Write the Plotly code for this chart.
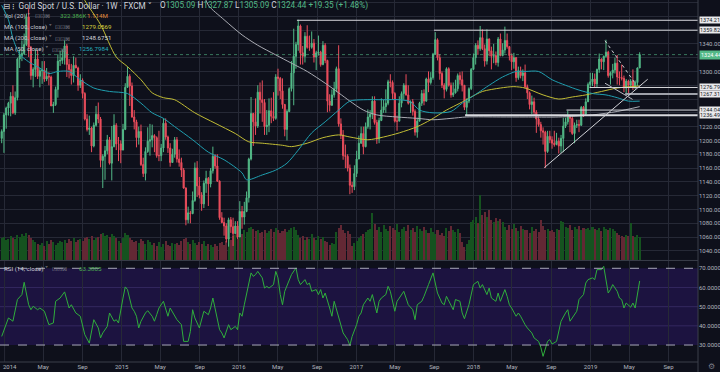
import plotly.graph_objects as go
import pandas as pd

# ---------------- DATA ----------------
week_start = "2013-12-23"   # first weekly candle (Monday)

opens = [1203,1213,1237,1247,1254,1264,1240,1262,1318,1323,
1326,1339,1379,1335,1294,1303,1318,1293,1301,1302,
1289,1293,1292,1250,1252,1274,1315,1316,1320,1337,
1310,1303,1294,1309,1305,1280,1287,1268,1231,1216,
1218,1192,1222,1238,1231,1171,1177,1185,1201,1167,
1191,1222,1195,1195,1186,1216,1277,1293,1279,1234,
1227,1204,1213,1165,1152,1184,1199,1201,1207,1204,
1178,1178,1189,1225,1205,1189,1168,1180,1201,1173,
1168,1157,1131,1085,1095,1094,1113,1160,1134,1121,
1108,1138,1145,1137,1156,1177,1163,1141,1088,1081,
1076,1057,1085,1075,1065,1076,1060,1097,1089,1097,
1117,1173,1239,1227,1221,1270,1259,1255,1220,1222,
1243,1235,1232,1292,1290,1272,1252,1216,1242,1275,
1298,1322,1339,1366,1327,1322,1351,1335,1335,1341,
1321,1327,1328,1310,1338,1316,1257,1251,1266,1275,
1304,1224,1208,1178,1177,1160,1135,1133,1152,1173,
1196,1210,1191,1220,1234,1238,1257,1226,1202,1229,
1244,1249,1254,1285,1284,1268,1228,1228,1254,1268,
1280,1266,1254,1256,1242,1212,1228,1254,1268,1257,
1289,1284,1291,1325,1346,1320,1297,1280,1274,1304,
1280,1266,1269,1275,1294,1288,1280,1248,1257,1275,
1303,1320,1338,1333,1349,1333,1315,1347,1330,1322,
1323,1313,1347,1323,1331,1345,1336,1323,1314,1320,
1291,1301,1294,1298,1278,1269,1252,1256,1241,1231,
1223,1214,1212,1184,1206,1201,1196,1194,1199,1192,
1203,1221,1227,1235,1232,1210,1222,1223,1222,1248,
1238,1256,1281,1285,1289,1282,1303,1318,1314,1322,
1328,1294,1298,1302,1312,1292,1291,1290,1276,1286,
1280,1286,1277,1284,1305.09]

highs = [1216,1240,1249,1256,1270,1280,1271,1320,1332,1345,
1355,1384,1392,1337,1306,1332,1331,1305,1315,1315,
1305,1299,1294,1256,1278,1325,1330,1332,1345,1340,
1318,1311,1322,1320,1307,1296,1290,1270,1238,1236,
1220,1226,1250,1255,1234,1180,1192,1208,1205,1221,
1238,1225,1205,1200,1224,1283,1307,1296,1284,1244,
1230,1220,1223,1175,1190,1219,1224,1223,1209,1206,
1214,1195,1232,1232,1207,1196,1188,1205,1205,1187,
1175,1160,1132,1104,1098,1126,1168,1170,1147,1125,
1142,1156,1147,1160,1191,1180,1180,1142,1096,1088,
1080,1088,1089,1088,1083,1083,1112,1105,1111,1126,
1175,1263,1240,1261,1280,1284,1287,1260,1244,1261,
1262,1270,1296,1304,1292,1290,1253,1245,1277,1315,
1362,1343,1375,1368,1337,1357,1367,1352,1358,1347,
1330,1352,1330,1344,1341,1317,1267,1274,1285,1307,
1338,1232,1215,1194,1180,1165,1140,1164,1185,1207,
1220,1220,1226,1245,1244,1264,1264,1230,1233,1261,
1259,1274,1288,1296,1287,1270,1236,1264,1271,1283,
1296,1280,1258,1260,1245,1233,1256,1273,1274,1291,
1300,1299,1327,1357,1348,1325,1300,1283,1306,1306,
1284,1284,1288,1297,1299,1300,1280,1261,1277,1305,
1326,1341,1345,1366,1361,1339,1361,1348,1336,1340,
1329,1350,1355,1341,1365,1355,1337,1326,1327,1321,
1307,1307,1303,1310,1281,1271,1265,1262,1244,1235,
1227,1219,1214,1214,1214,1206,1214,1211,1204,1208,
1233,1233,1243,1237,1237,1226,1230,1230,1250,1250,
1261,1284,1298,1298,1297,1304,1326,1319,1323,1346,
1330,1300,1311,1320,1324,1300,1310,1294,1289,1288,
1289,1303,1287,1306,1327.87]

lows = [1196,1182,1217,1236,1235,1238,1237,1258,1305,1315,
1324,1337,1321,1288,1277,1292,1289,1277,1282,1285,
1286,1280,1250,1240,1250,1262,1308,1311,1310,1292,
1290,1281,1284,1305,1272,1276,1261,1229,1213,1208,
1183,1190,1220,1225,1161,1131,1143,1180,1165,1142,
1190,1186,1170,1167,1186,1215,1276,1250,1233,1216,
1190,1194,1163,1147,1142,1182,1178,1190,1183,1175,
1170,1170,1183,1201,1182,1162,1168,1175,1168,1162,
1147,1130,1077,1080,1080,1093,1111,1118,1116,1098,
1102,1124,1105,1132,1152,1159,1140,1085,1080,1062,
1052,1046,1066,1047,1064,1057,1061,1072,1078,1096,
1110,1171,1192,1208,1218,1239,1227,1208,1208,1212,
1225,1228,1230,1265,1260,1246,1206,1200,1241,1271,
1251,1304,1330,1310,1310,1313,1333,1330,1333,1313,
1302,1323,1307,1309,1312,1241,1242,1250,1262,1270,
1220,1202,1172,1160,1155,1122,1124,1128,1147,1173,
1195,1180,1190,1217,1216,1231,1223,1195,1196,1228,
1240,1240,1251,1277,1260,1226,1214,1228,1248,1259,
1265,1252,1240,1236,1207,1204,1229,1250,1251,1256,
1270,1281,1288,1324,1316,1288,1276,1261,1271,1278,
1262,1263,1268,1271,1281,1271,1244,1236,1254,1273,
1302,1310,1324,1330,1331,1307,1310,1322,1303,1312,
1309,1307,1322,1322,1326,1333,1316,1302,1304,1285,
1288,1290,1286,1275,1260,1245,1238,1237,1211,1220,
1204,1194,1160,1182,1196,1188,1191,1193,1181,1182,
1183,1218,1223,1212,1208,1196,1218,1212,1221,1234,
1236,1256,1276,1279,1276,1277,1298,1303,1302,1320,
1291,1281,1290,1297,1281,1280,1287,1270,1266,1267,
1276,1273,1274,1279,1305.09]

closes = [1213,1237,1247,1254,1264,1240,1262,1318,1323,1326,
1339,1379,1335,1294,1303,1318,1293,1301,1302,1289,
1293,1292,1250,1252,1274,1315,1316,1320,1337,1310,
1303,1294,1309,1305,1280,1287,1268,1231,1216,1218,
1192,1222,1238,1231,1171,1177,1185,1201,1167,1191,
1222,1195,1195,1186,1216,1277,1293,1279,1234,1227,
1204,1213,1165,1152,1184,1199,1201,1207,1204,1178,
1178,1189,1225,1205,1189,1168,1180,1201,1173,1168,
1157,1131,1085,1095,1094,1113,1160,1134,1121,1108,
1138,1145,1137,1156,1177,1163,1141,1088,1081,1076,
1057,1085,1075,1065,1076,1060,1097,1089,1097,1117,
1173,1239,1227,1221,1270,1259,1255,1220,1222,1243,
1235,1232,1292,1290,1272,1252,1216,1242,1275,1298,
1322,1339,1366,1327,1322,1351,1335,1335,1341,1321,
1327,1328,1310,1338,1316,1257,1251,1266,1275,1304,
1224,1208,1178,1177,1160,1135,1133,1152,1173,1196,
1210,1191,1220,1234,1238,1257,1226,1202,1229,1244,
1249,1254,1285,1284,1268,1228,1228,1254,1268,1280,
1266,1254,1256,1242,1212,1228,1254,1268,1257,1289,
1284,1291,1325,1346,1320,1297,1280,1274,1304,1280,
1266,1269,1275,1294,1288,1280,1248,1257,1275,1303,
1320,1338,1333,1349,1333,1315,1347,1330,1322,1323,
1313,1347,1323,1331,1345,1336,1323,1314,1320,1291,
1301,1294,1298,1278,1269,1252,1256,1241,1231,1223,
1214,1212,1184,1206,1201,1196,1194,1199,1192,1203,
1221,1227,1235,1232,1210,1222,1223,1222,1248,1238,
1256,1281,1285,1289,1282,1303,1318,1314,1322,1328,
1294,1298,1302,1312,1292,1291,1290,1276,1286,1280,
1286,1277,1284,1305,1324.44]

volumes_k = [1100,1150,1000,1050,1200,1100,1050,1250,1150,
1300,1200,1350,1250,1100,1000,
900,800,750,850,700,950,800,1000,900,750,850,950,
900,1000,850,1050,950,1100,900,1000,1050,950,1100,1150,
1050,1200,1000,1100,1150,1300,
1350,1200,1250,1150,
1300,1200,1100,950,850,1100,
1350,1250,
1100,1000,900,950,850,1050,950,800,1000,900,
750,850,700,900,650,800,950,750,700,850,800,
850,750,950,1050,1100,900,800,1000,850,750,900,800,950,700,800,
750,650,800,700,850,900,750,950,
1100,1000,1200,1250,1050,1150,1300,
1500,1400,1600,1650,1550,1450,1500,1350,
1400,1500,1350,1450,1550,1400,1600,1500,1350,1450,1550,1400,1500,1600,
1650,1500,
1250,1100,1200,1000,1150,1050,1300,1100,1000,1200,1050,1150,950,
900,750,850,800,
1400,1600,1750,1500,1350,1450,1300,
700,850,950,1100,1200,1300,1400,1500,1550,
2350,1800,
1500,1650,1400,1750,1550,1450,1700,1600,1500,1800,1400,1550,1650,1450,1750,1500,1600,1400,1700,1550,1450,1650,1500,1350,1600,
1400,1300,1500,1250,1350,1200,
1600,1450,1700,1500,1400,1550,1350,
900,650,800,1000,
1900,2000,2150,1850,
3250,
2250,2400,2150,2500,
2000,1900,2100,1950,2050,1900,
1650,1500,1750,1550,1800,1600,1450,1700,1550,1500,
1500,1350,1650,1450,1550,1400,
2000,1700,1500,
1550,1450,1500,1400,1550,1500,
1950,1900,1650,
1600,1750,1500,1650,1550,1700,1500,1600,1550,
1600,1500,1650,1550,1500,1600,1450,1650,1550,1500,1600,1550,1450,
1350,1250,1200,
1150,1250,1200,
1850,
1200,1150,1250,1150]

# moving averages (week index -> value)
ma50_weeks = [0,3,5,8,12,17,21,25,30,35,41,48,56,62,67,72,77,85,92,99,107,109,116,122,127,132,138,144,150,155,161,170,177,182,186,192,200,205,212,217,223,229,233,239,245,251,257,263,269,274,279,284]
ma50_vals = [1396,1375,1348,1325,1314,1305,1297,1300,1300,1288,1276,1271,1268,1254,1240,1232,1220,1201,1183,1172,1153,1143,1150,1157,1167,1186,1211,1227,1244,1257,1259,1259,1259,1256,1244,1240,1242,1254,1269,1280,1292,1300,1300,1300,1288,1280,1273,1268,1266,1262,1257,1257]

ma100_weeks = [35,37,44,51,56,62,67,72,77,86,95,104,110,116,125,129,136,143,150,155,163,170,177,185,191,198,204,209,214,222,228,233,241,248,254,260,267,274,284]
ma100_vals = [1418,1403,1368,1321,1307,1288,1269,1262,1259,1240,1225,1210,1198,1196,1193,1191,1196,1204,1208,1205,1201,1205,1211,1220,1230,1244,1254,1263,1271,1276,1278,1276,1266,1260,1263,1266,1271,1276,1279]

ma200_weeks = [90,92,99,107,114,122,129,136,144,150,155,161,167,176,185,192,200,207,222,233,248,263,274,284]
ma200_vals = [1412,1396,1375,1353,1338,1324,1312,1300,1283,1269,1257,1244,1237,1234,1232,1230,1232,1234,1234,1234,1234,1237,1242,1249]

rsi_weeks = [0,2,3,5,7,9,10,12,13,14,16,17,19,21,23,24,26,28,29,30,31,33,35,36,37,39,40,41,43,44,45,47,48,50,51,52,
54,55,56,58,59,60,61,62,64,65,67,68,69,70,72,73,74,75,77,78,80,81,83,84,85,86,88,89,90,92,93,94,95,97,98,99,
101,102,104,105,106,107,108,110,111,112,113,114,116,117,118,119,121,122,123,124,125,126,128,129,131,132,133,
135,136,137,138,140,141,142,143,144,146,147,148,150,151,152,154,155,156,158,159,160,161,163,164,165,167,168,
169,171,172,173,175,176,177,179,180,181,183,184,185,187,188,189,190,192,193,194,196,197,198,200,201,202,204,
205,206,208,209,210,212,213,214,216,217,218,220,221,222,224,225,226,227,229,230,231,233,234,236,237,239,240,
241,243,244,245,247,248,249,251,252,253,255,256,257,259,260,261,263,264,265,267,268,269,270,271,272,274,275,
276,277,278,280,281,282,284]
rsi_vals = [34.5,41.5,44.1,42.4,53.7,56.3,62.7,51.0,48.4,50.2,48.4,49.3,47.6,40.6,41.5,52.8,54.5,57.7,52.8,49.3,51.0,46.7,45.0,40.6,35.4,31.0,38.0,43.2,38.9,33.7,36.3,39.7,46.7,42.4,43.2,41.5,
54.5,60.3,58.9,49.3,47.6,45.0,38.9,42.4,46.7,47.9,45.0,42.4,45.8,49.3,52.8,48.4,45.0,49.3,45.0,43.2,40.6,31.9,31.9,37.1,48.4,44.1,38.9,43.2,47.6,45.8,49.3,54.5,49.3,38.0,36.3,33.7,
40.6,38.0,39.7,38.0,46.7,45.0,51.0,62.3,67.6,65.8,66.7,68.4,65.0,59.7,60.6,59.7,61.5,68.4,65.0,56.3,51.0,58.0,63.2,66.7,70.2,64.1,61.5,
64.1,61.5,62.3,58.0,58.9,56.3,58.9,54.5,57.1,49.3,45.0,52.8,44.1,39.7,36.3,32.8,29.8,34.5,40.6,45.0,46.7,51.0,54.5,52.8,56.3,46.7,52.8,
54.5,56.3,60.6,58.0,47.6,52.8,54.5,58.0,54.5,51.0,48.4,43.2,51.0,52.8,55.4,58.0,61.5,67.6,61.5,57.1,51.9,51.0,55.4,50.2,48.4,53.7,52.8,
46.7,43.7,51.0,57.1,61.5,63.2,59.7,61.5,56.3,59.7,54.5,52.8,57.1,52.8,58.9,55.4,51.0,49.3,45.0,46.7,45.0,40.6,38.9,36.3,33.7,31.9,28.8,
24.1,31.9,32.8,30.5,31.9,37.1,42.4,46.7,48.4,42.4,45.8,47.6,53.7,56.3,62.3,64.1,65.0,64.1,69.3,69.3,71.0,65.0,57.1,58.9,61.5,58.0,54.5,
53.7,49.3,51.9,49.7,51.9,49.3,63.4]

level_prices = [1374.21, 1359.82, 1276.79, 1267.31, 1244.04, 1236.49]
level_starts = ["2016-06-30", "2017-08-31", "2018-12-29", "2019-04-19", "2018-10-18", "2017-12-06"]

price_ticks = list(range(1040, 1401, 20))
hidden_price_ticks = [1240, 1260, 1280, 1320, 1360, 1380]   # covered by the drawing labels

tick_dates = ["2014-01-01","2014-05-01","2014-09-01","2015-01-01","2015-05-01","2015-09-01",
              "2016-01-01","2016-05-01","2016-09-01","2017-01-01","2017-05-01","2017-09-01",
              "2018-01-01","2018-05-01","2018-09-01","2019-01-01","2019-05-01","2019-09-01"]
tick_text = ["2014","May","Sep","2015","May","Sep","2016","May","Sep","2017","May","Sep",
             "2018","May","Sep","2019","May","Sep"]

# ---------------- STYLE ----------------
BG = "#0e101b"
GRID = "#262936"
TXT = "#b2b5be"
UP = "#53b987"
DN = "#eb4d5c"
VUP = "#15521f"
VDN = "#632834"
BAND = "#1c1340"
FONT = "Roboto, 'DejaVu Sans', sans-serif"

n = len(closes)
for name, arr in [("opens", opens), ("highs", highs), ("lows", lows), ("volumes", volumes_k)]:
    if len(arr) != n:
        raise SystemExit(f"{name} length {len(arr)} != {n}")
if len(rsi_weeks) != len(rsi_vals):
    raise SystemExit(f"rsi {len(rsi_weeks)} vs {len(rsi_vals)}")

dates = pd.date_range(week_start, periods=n, freq="7D")
x_range = ["2013-12-17 17:00", "2019-12-01 19:00"]

vol_colors = [VUP if c >= o else VDN for o, c in zip(opens, closes)]

fig = go.Figure()

fig.add_trace(go.Bar(x=dates, y=volumes_k, marker=dict(color=vol_colors, line=dict(width=0)),
                     width=7 * 86400000 * 0.9, xaxis="x", yaxis="y", hoverinfo="skip"))

def ma_trace(weeks, vals, color):
    return go.Scatter(x=[dates[i] for i in weeks], y=vals, mode="lines",
                      line=dict(color=color, width=1, shape="spline", smoothing=0.8),
                      xaxis="x", yaxis="y2", hoverinfo="skip")

fig.add_trace(ma_trace(ma200_weeks, ma200_vals, "#a9abb3"))
fig.add_trace(ma_trace(ma100_weeks, ma100_vals, "#c2bd35"))
fig.add_trace(ma_trace(ma50_weeks, ma50_vals, "#1f9fb0"))

fig.add_trace(go.Candlestick(x=dates, open=opens, high=highs, low=lows, close=closes,
                             increasing=dict(line=dict(color=UP, width=1), fillcolor=UP),
                             decreasing=dict(line=dict(color=DN, width=1), fillcolor=DN),
                             whiskerwidth=0, xaxis="x", yaxis="y2", hoverinfo="skip"))

fig.add_trace(go.Scatter(x=[dates[i] for i in rsi_weeks], y=rsi_vals, mode="lines",
                         line=dict(color="#2fae3c", width=1), xaxis="x2", yaxis="y3",
                         hoverinfo="skip"))

shapes = []
shapes.append(dict(type="rect", xref="paper", x0=0, x1=1, yref="y3", y0=30, y1=70,
                   fillcolor=BAND, line=dict(width=0), layer="below"))
for lv in (40, 50, 60):
    shapes.append(dict(type="line", xref="paper", x0=0, x1=1, yref="y3", y0=lv, y1=lv,
                       line=dict(color="#33285e", width=1), layer="below"))
for lv in (30, 70):
    shapes.append(dict(type="line", xref="paper", x0=0, x1=1, yref="y3", y0=lv, y1=lv,
                       line=dict(color="#a8a8b8", width=1, dash="dash"), layer="above"))
shapes.append(dict(type="line", xref="paper", x0=0, x1=1, yref="y2", y0=closes[-1], y1=closes[-1],
                   line=dict(color="rgba(83,185,135,0.6)", width=1, dash="dot")))
for p, s in zip(level_prices, level_starts):
    col = "#9ea1aa" if p == 1267.31 else "#d8d9de"
    w = 2 if p in (1267.31, 1236.49) else 1
    shapes.append(dict(type="line", xref="x", x0=s, x1=x_range[1], yref="y2", y0=p, y1=p,
                       line=dict(color=col, width=w)))
shapes.append(dict(type="line", xref="x", yref="y2", x0="2018-08-10", y0=1160.6,
                   x1="2019-06-28", y1=1288.7, line=dict(color="#d0d1d6", width=1)))
shapes.append(dict(type="line", xref="x", yref="y2", x0="2019-02-15", y0=1344.6,
                   x1="2019-05-20", y1=1282.9, line=dict(color="#d0d1d6", width=1, dash="dot")))
shapes.append(dict(type="line", xref="x", yref="y2", x0="2019-02-15", y0=1283.0,
                   x1="2019-05-12", y1=1259.5, line=dict(color="#b8bac2", width=1)))
shapes.append(dict(type="line", xref="paper", x0=0, x1=1, yref="paper", y0=0.2805, y1=0.2805,
                   line=dict(color="#3a3e4a", width=1)))
shapes.append(dict(type="line", xref="paper", x0=0, x1=1, yref="paper", y0=0, y1=0,
                   line=dict(color="#3a3e4a", width=1)))
shapes.append(dict(type="line", xref="paper", x0=1, x1=1, yref="paper", y0=-0.03, y1=1,
                   line=dict(color="#3a3e4a", width=1)))

ann = []
def px_x(px):
    return px / 698.0
def px_y(py):
    return (362.0 - py) / 362.0

def text(px, py, s, color="#d1d4dc", size=6, anchor="left"):
    ann.append(dict(xref="paper", yref="paper", x=px_x(px), y=px_y(py), text=s, showarrow=False,
                    xanchor=anchor, yanchor="middle", font=dict(family=FONT, size=size, color=color)))

text(1, 6, "⊟ ⁝  Gold Spot / U.S. Dollar · 1W · FXCM ˅", "#d1d4dc", 8.2)
g = UP
ohlc = (f"O<span style='color:{g}'>1305.09</span> H<span style='color:{g}'>1327.87</span> "
        f"L<span style='color:{g}'>1305.09</span> C<span style='color:{g}'>1324.44</span> "
        f"<span style='color:{g}'>+19.35 (+1.48%)</span>")
text(158, 6, ohlc, "#d1d4dc", 8.2)

rows = [
    (15.5, "Vol (20) ˅", 33, [(58, "322.386K", "#4caf50"), (85, "1.114M", "#e0893c")]),
    (27, "MA (100, close) ˅", 53, [(80, "1279.0569", "#d6d13e")]),
    (38.3, "MA (200, close) ˅", 53, [(80, "1248.6751", "#d1d4dc")]),
    (49, "MA (50, close) ˅", 50, [(77, "1256.7984", "#26aebf")]),
    (268.5, "RSI (14, close) ˅", 50, [(77, "63.3805", "#4caf50")]),
]
for py, label, icx, vals in rows:
    text(2, py, label, "#c8cad1", 6.2)
    text(icx, py, "⊡⊡⊠", "#787b86", 6)
    for vx, vs, vc in vals:
        text(vx, py, vs, vc, 6.2)

# first date label kept fully visible at the left edge
text(0.5, 367, "2014", TXT, 6)

for p in level_prices:
    ann.append(dict(xref="paper", yref="y2", x=1.0, y=p, text=f"{p:.2f}", showarrow=False,
                    xanchor="left", yanchor="middle", xshift=1, bgcolor="#e9e9ec",
                    borderpad=0, font=dict(family=FONT, size=5.5, color="#131722")))
ann.append(dict(xref="paper", yref="y2", x=1.0, y=closes[-1], text=f"{closes[-1]:.2f}",
                showarrow=False, xanchor="left", yanchor="middle", xshift=1, bgcolor=UP,
                borderpad=1, font=dict(family=FONT, size=5.5, color="#ffffff")))
ann.append(dict(xref="paper", yref="paper", x=1.0, y=-0.013, text="⚙", showarrow=False,
                xanchor="left", yanchor="middle", xshift=8, font=dict(size=8, color="#787b86")))

fig.update_layout(
    width=720, height=372, margin=dict(l=0, r=22, t=0, b=10),
    paper_bgcolor=BG, plot_bgcolor=BG, showlegend=False, bargap=0,
    font=dict(family=FONT, size=6, color=TXT),
    xaxis=dict(type="date", range=x_range, anchor="y", tickvals=tick_dates, showticklabels=False,
               showgrid=True, gridcolor=GRID, gridwidth=1, zeroline=False, ticks="",
               rangeslider=dict(visible=False), showline=False),
    xaxis2=dict(type="date", range=x_range, matches="x", anchor="y3", tickvals=tick_dates[1:],
                ticktext=tick_text[1:], showgrid=True, gridcolor=GRID, gridwidth=1, zeroline=False,
                ticks="", tickfont=dict(family=FONT, size=6, color=TXT), showline=False),
    yaxis=dict(domain=[0.282, 1], range=[0, 13000], visible=False, fixedrange=True),
    yaxis2=dict(overlaying="y", anchor="x", side="right", range=[1026.8, 1403.6],
                tickvals=price_ticks,
                ticktext=["" if v in hidden_price_ticks else f"{v:.2f}" for v in price_ticks],
                showgrid=True, gridcolor=GRID, gridwidth=1, zeroline=False, ticks="",
                tickfont=dict(family=FONT, size=6, color=TXT)),
    yaxis3=dict(domain=[0, 0.279], anchor="x2", side="right", range=[21.15, 73.8],
                tickvals=[30, 40, 50, 60, 70], tickformat=".4f", showgrid=False,
                zeroline=False, ticks="", tickfont=dict(family=FONT, size=6, color=TXT)),
    shapes=shapes, annotations=ann,
)
# grid line for the first (2014) tick in the RSI pane
fig.add_shape(type="line", xref="x2", x0="2014-01-01", x1="2014-01-01", yref="paper", y0=0, y1=0.279,
              line=dict(color=GRID, width=1), layer="below")

fig.write_html("out.html", config={"displayModeBar": False, "staticPlot": True},
               post_script="document.body.style.margin='0';document.body.style.overflow='hidden';document.body.style.background='#0e101b';")
